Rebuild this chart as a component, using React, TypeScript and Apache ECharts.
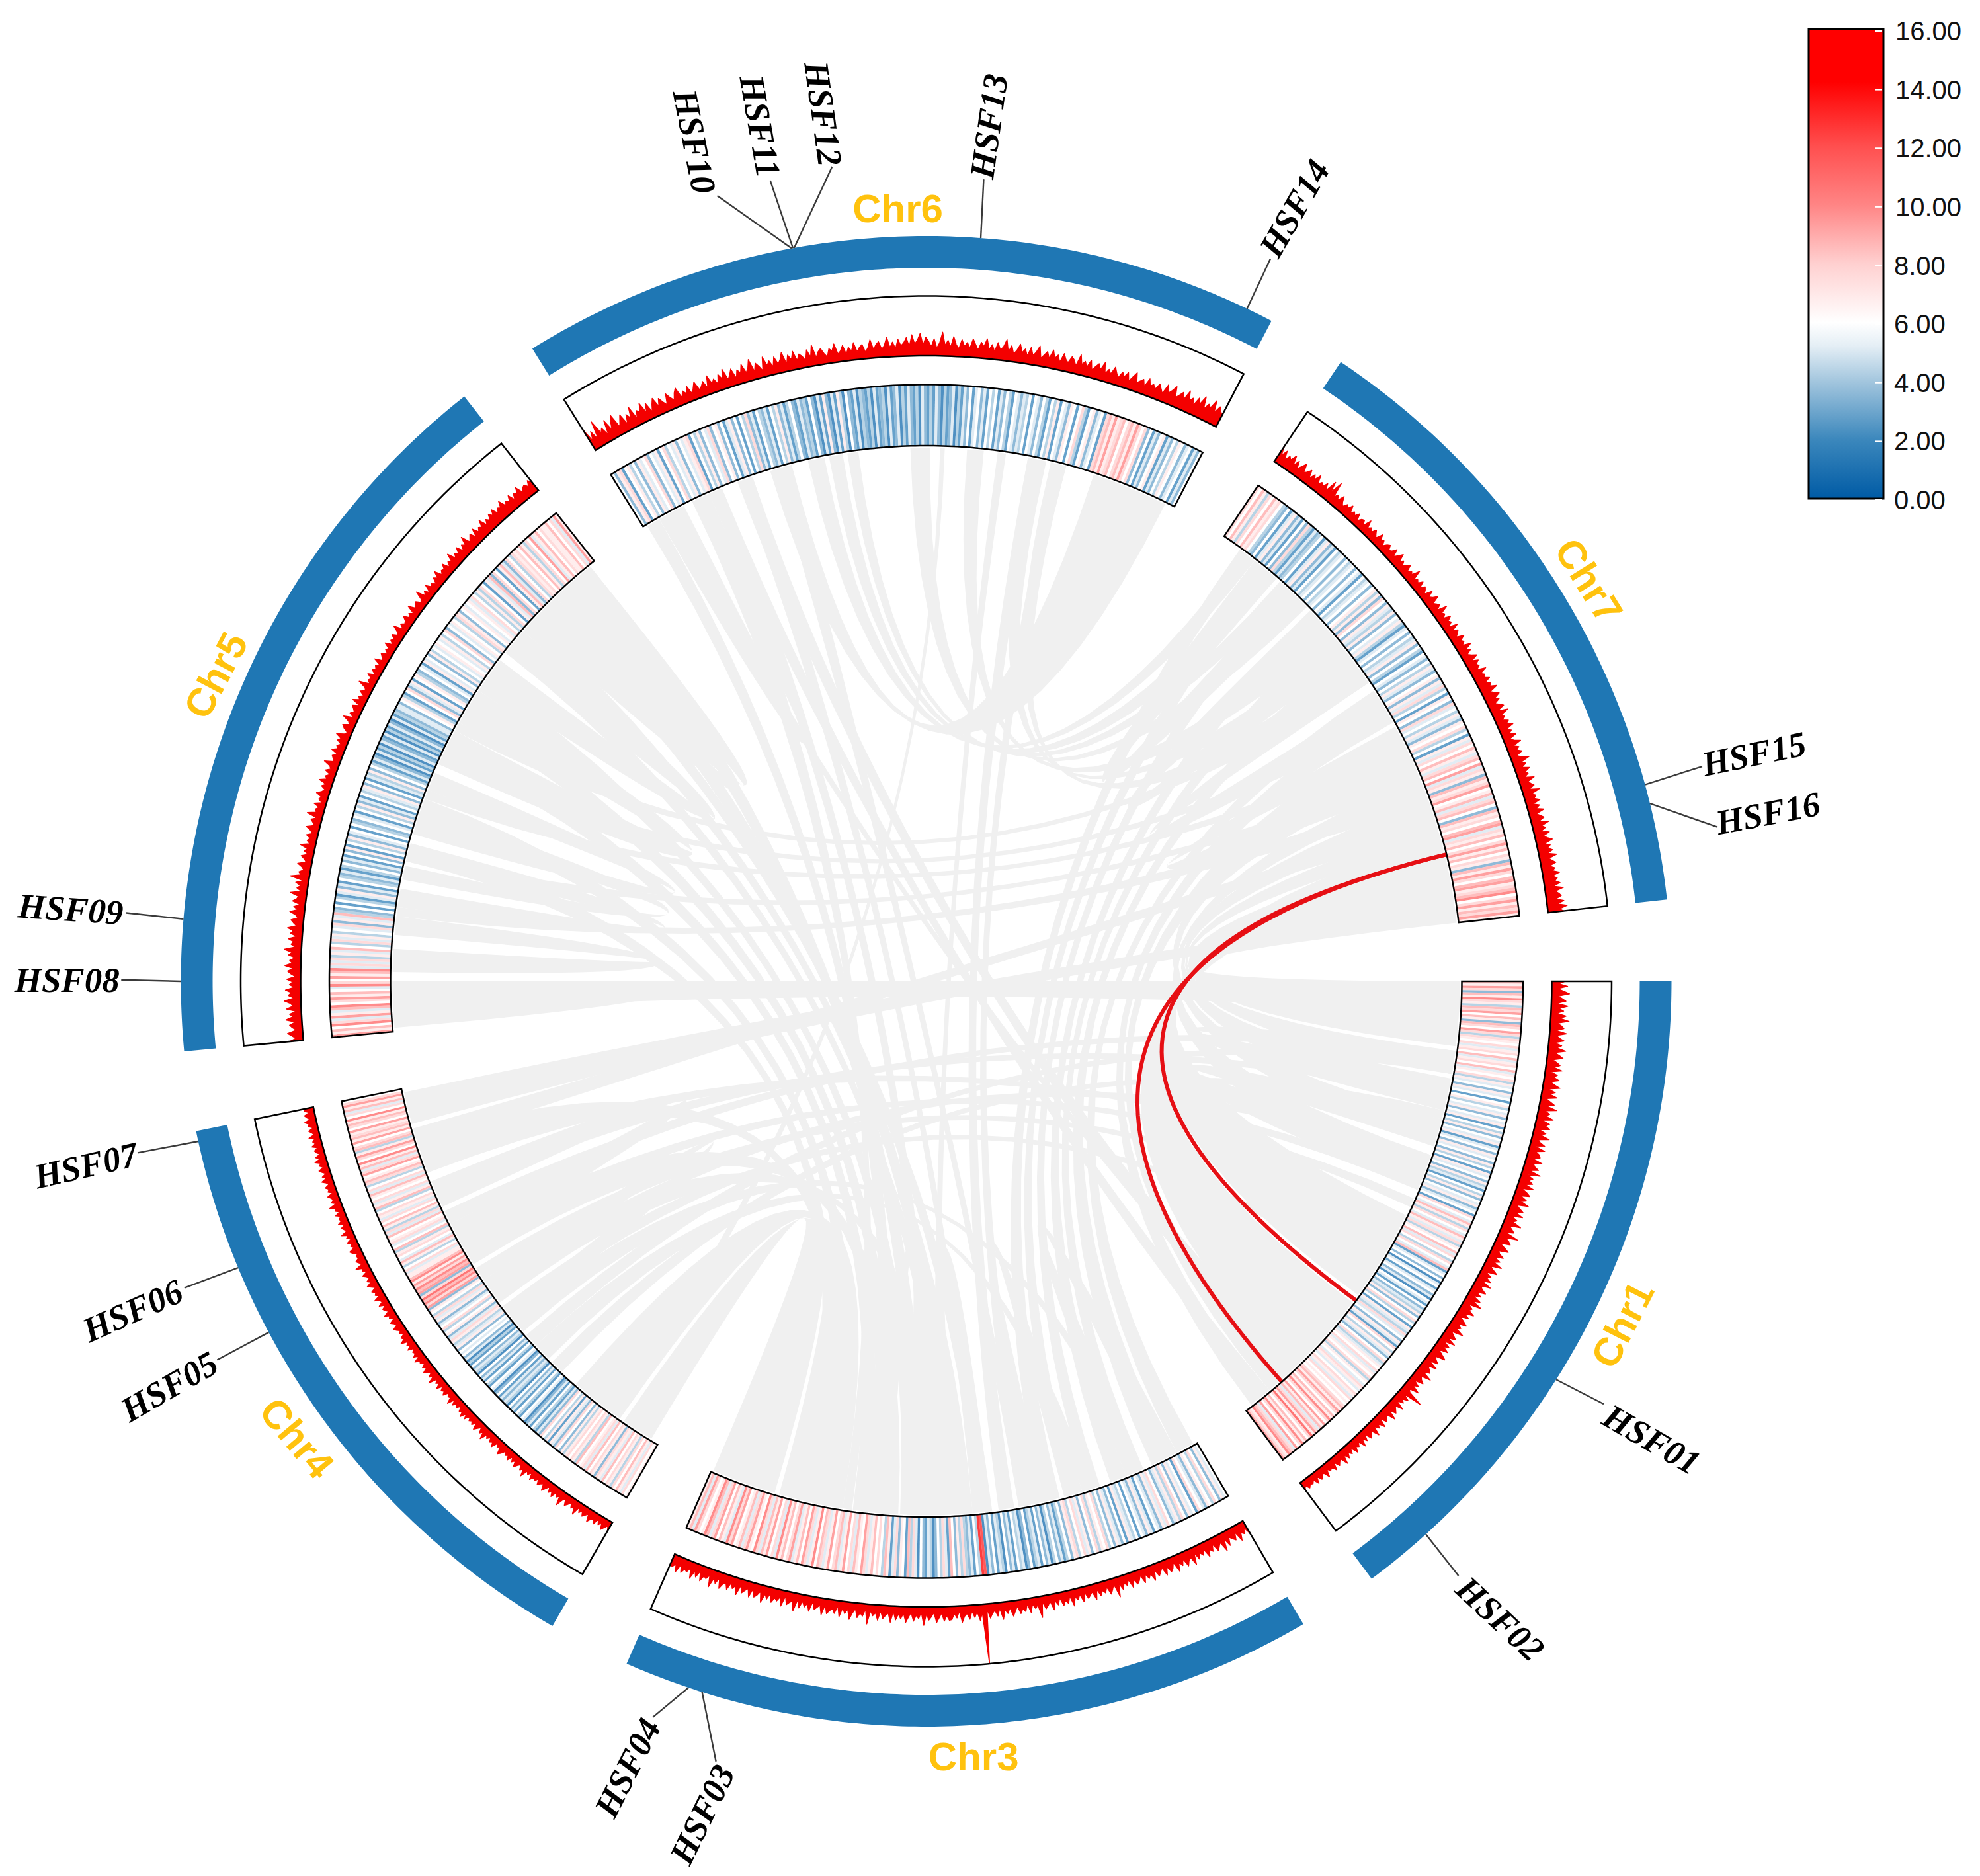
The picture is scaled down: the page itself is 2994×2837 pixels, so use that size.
import React, { useEffect, useRef } from "react";
import * as echarts from "echarts";

const chromosomes = ["Chr1", "Chr3", "Chr4", "Chr5", "Chr6", "Chr7"];
const chrStart = [0, 59.6, 120.1, 174.6, 238.1, 303.8];
const chrEnd = [53.3, 113.7, 168.4, 231.7, 297.6, 353.7];

const heat1 = [9,7,10,8,3,9,7,11,8,7,4,9,8,10,6,9,7,3,9,8,6,10,8,4,8,7,6,8,5,7,8,6,9,5,7,8,6,9,5,7,6,8,4,7,5,6,3,7,5,6,2,6,7,4,6,5,7,3,6,5,7,2,6,4,7,3,6,5,7,2,5,6,3,7,5,6,3,7,4,6,2,7,5,6,3,7,4,5,2,6,4,7,3,6,5,7,3,5,6,2,8,6,5,9,7,4,8,6,5,9,7,5,8,4,7,6,9,5,8,6,4,8,6,5,9,2,5,6,3,6,1,5,6,2,5,6,3,5,1,6,5,2,6,3,5,4,7,3,6,8,4,6,2,7,5,4,8,5,6,3,7,5,2,8,6,4,7,5,3,6,8,4,5,7,6,8,5,7,6,8,4,7,6,5,8,7,5,6,8,7,5,8,6,7,6,8,9,7,10,8,6,9,7,11,8,6,10,7,9,5,8,10,7,12,8,6,9,7,11,8,6,10,5,8,9,11,7,8,10];
const heat3 = [6,5,7,3,6,8,4,6,7,3,5,6,8,2,6,5,7,3,6,8,4,7,5,3,6,8,5,7,3,5,6,2,5,7,3,5,6,2,6,4,5,7,2,6,3,5,7,3,6,4,8,6,7,4,8,6,3,7,5,8,6,4,8,7,3,6,4,2,5,3,6,4,1,5,3,6,2,5,4,2,6,3,1,5,4,6,2,5,3,6,1,4,5,2,6,3,5,1,13,14,4,6,2,5,3,4,8,4,7,3,6,9,2,5,8,4,6,3,1,4,5,2,3,6,1,5,8,4,9,2,6,7,3,8,5,2,7,9,4,6,8,6,9,7,5,8,10,6,7,9,5,8,6,10,7,5,9,8,6,10,7,5,8,9,6,11,7,5,8,10,6,9,7,5,10,8,6,9,7,11,5,8,6,10,7,9,5,8,11,6,7,10,8,5,9,7,6,10,8,11,5,7,9,6,10,8,5,9,11,7,6,8,10,5,9,7];
const heat4 = [7,6,8,5,7,9,6,8,4,7,8,6,9,5,7,8,3,7,8,6,9,5,8,7,6,9,4,7,8,6,8,7,4,7,3,6,8,3,5,7,2,7,4,6,8,3,5,2,4,6,2,5,3,1,5,6,2,4,6,2,5,3,6,1,4,5,3,5,2,6,3,1,5,6,2,4,6,2,5,3,6,1,4,5,3,6,2,4,1,5,3,6,5,6,3,7,5,4,7,8,5,3,7,6,4,8,6,5,3,7,5,8,4,6,7,3,10,8,11,9,12,8,3,10,9,11,8,10,7,11,9,7,7,5,8,6,4,7,9,5,6,8,7,4,9,6,5,8,7,6,9,5,8,4,7,9,6,8,5,7,8,6,4,9,7,5,8,6,7,9,5,8,6,4,8,9,7,6,10,8,5,9,7,11,6,8,10,7,4,9,8,6,10,7,9,8,7,10,6,8,9,7,11,6,8,5,9,7,10,8,6];
const heat5 = [10,7,9,6,11,8,5,10,7,5,9,11,6,8,10,7,9,6,5,11,8,6,10,7,9,11,5,8,5,8,4,7,5,9,6,4,8,5,7,4,6,5,8,3,7,5,9,4,3,6,2,6,4,2,5,7,3,5,2,6,4,3,5,2,4,6,3,5,2,6,3,7,2,6,4,7,3,5,6,2,6,4,3,6,5,2,6,4,7,3,5,2,6,4,5,7,3,6,2,5,4,7,3,6,4,2,5,3,1,5,2,4,1,5,3,2,5,1,4,2,5,3,1,5,2,4,3,5,5,3,6,7,4,2,6,8,3,5,7,2,6,7,4,3,6,5,2,7,5,6,3,7,4,6,5,7,6,5,7,4,6,8,3,6,5,7,6,4,8,7,3,6,7,5,6,7,5,8,6,4,7,4,8,6,2,7,5,9,3,8,6,2,7,9,5,3,8,6,4,8,7,8,6,9,7,4,8,6,10,5,7,9,6,8,7,7,9,6,8,5,10,7];
const heat6 = [6,3,7,8,2,6,7,4,6,3,7,5,6,8,3,6,5,7,2,6,8,4,6,5,7,3,6,5,7,8,2,6,4,7,3,6,5,8,3,6,7,3,6,2,5,7,3,6,2,6,4,8,3,5,2,6,4,3,5,2,6,4,7,3,5,2,4,6,3,2,5,3,4,2,6,3,1,5,2,7,3,1,5,2,7,4,1,6,3,2,5,1,4,3,2,4,1,5,2,3,4,1,5,2,3,5,1,4,2,5,3,2,4,1,5,3,2,4,2,5,3,1,4,2,3,5,1,4,2,5,3,6,2,5,6,3,5,2,6,4,6,2,5,3,6,4,2,6,5,3,5,4,6,2,6,5,3,6,4,2,6,4,7,2,6,5,3,7,6,2,6,8,4,2,6,7,3,5,6,2,8,9,7,10,7,8,9,6,8,9,7,10,8,6,8,3,6,2,5,3,6,7,2,5,3,6,4,7,6,3,5,6,2,5,3,6];
const heat7 = [8,6,9,7,4,8,6,9,7,8,6,4,3,6,2,5,7,3,5,2,6,3,8,4,2,5,3,4,6,2,5,7,3,5,2,6,4,5,6,3,6,4,5,6,3,6,5,2,6,4,5,6,3,6,7,4,7,3,8,6,3,7,5,4,7,3,6,5,7,4,2,5,6,3,6,4,5,7,3,6,4,2,6,5,3,6,4,7,5,3,6,7,3,7,5,8,4,6,2,7,6,3,8,5,6,4,7,5,3,7,6,8,4,6,2,7,5,8,6,9,7,5,8,9,6,10,5,8,7,3,9,7,8,10,6,7,9,5,8,9,6,3,9,7,8,6,9,10,5,8,7,9,6,8,10,7,9,6,8,7,3,9,7,10,8,6,9,10,7,8,9,11,6,8,10,7,9,8,10,7];
const heatValues = [heat1, heat3, heat4, heat5, heat6, heat7];

const dens1 = [20,11,24,9,18,27,10,16,22,8,25,12,19,9,23,14,28,10,17,21,9,26,11,15,23,8,20,13,27,10,18,24,9,16,21,12,25,8,19,14,23,10,17,26,9,20,12,24,8,15,22,11,27,10,18,13,25,9,21,16,23,8,19,12,26,10,14,22,9,24,11,18,20,8,25,13,16,23,10,28,9,19,14,21,11,25,8,17,23,10,20,12,26,9,15,22,11,24,8,18,13,27,10,16,21,9,30,12,19,23,8,17,25,11,14,22,9,20,12,26,10,16,24,8,18,13,21,9,25,11,15,23,10,19,8,22,12,28,9,17,14,24,10,20,8,16,23,11,18,13,26,9,15,21,10,24,8,19,12,22,9,17,25,11,14,20,8,23,10,16,19,9,26,12,15,21,8,18,11,24,10,14,38,9,20,12,17,8,22,11,15,19,9,24,10,13,18,8,21,11,16,9,23,12,14,19,8,17,10,21,9,15,12,20,8,16,11,18,9,22,10,13,17,8,19,11,14,9,20,10,12,16,8,18,9,13,11,15,8,14];
const dens3 = [22,10,18,14,25,9,20,16,11,23,10,28,12,17,22,9,19,14,24,10,18,12,21,9,26,13,16,23,10,19,12,25,9,17,21,11,23,10,15,20,9,24,12,18,10,22,9,16,20,11,23,9,17,12,21,10,30,9,16,22,10,18,13,20,9,24,11,15,19,8,22,10,17,12,25,9,19,14,21,8,18,11,24,10,16,20,9,32,12,17,10,22,8,19,14,21,9,16,23,10,18,12,26,9,20,11,15,22,8,90,13,24,10,19,9,21,12,16,25,8,18,11,20,21,14,22,10,17,24,9,15,20,11,28,8,18,13,22,9,16,24,10,19,12,21,8,25,11,15,20,9,23,12,17,10,30,8,19,14,22,9,16,26,11,18,10,24,8,20,13,17,22,9,25,11,15,19,8,23,12,18,10,21,9,27,13,16,20,8,24,11,18,14,22,9,19,12,26,10,17,21,8,23,11,15,20,9,25,12,18,10,22,13,16,24,9,19,11,27,10,17,14,23,9,20,12,25,10,18,15,22,11,24,13,19,16];
const dens4 = [15,8,13,18,9,14,7,17,10,13,19,8,12,16,9,14,7,21,11,15,8,13,17,9,12,23,10,14,8,18,11,15,7,13,19,9,12,16,8,14,10,17,7,13,9,21,11,15,8,12,18,9,14,7,16,10,13,8,15,19,9,12,7,17,11,14,8,13,9,20,10,15,7,12,17,8,14,10,13,7,16,9,18,11,14,7,13,9,15,8,19,10,12,7,16,11,14,8,17,9,13,7,21,10,15,8,12,17,9,14,7,13,11,18,8,15,10,12,7,16,9,13,8,19,11,14,7,12,9,13,16,8,11,15,7,13,10,17,8,12,14,7,16,9,11,18,8,13,10,15,7,12,17,9,14,8,11,16,7,13,10,20,8,12,15,9,11,7,14,17,8,12,10,15,7,13,9,18,8,11,14,7,16,10,12,8,15,7,13,11,19,8,14,9,12,16,7,13,10,15,8,11,17,9,14,7,12,16,8,13,10,18,9,15,7,12,14,8,16,10,13,9,17,8,11,15,7,14,12,18,9,13,16,8,15,11];
const dens5 = [21,11,17,23,9,15,19,10,24,13,18,8,22,12,16,25,10,19,14,23,9,17,12,21,8,15,20,11,24,13,17,9,19,14,26,10,16,12,21,8,18,14,23,10,15,19,9,13,22,11,17,8,20,14,12,25,9,16,11,19,8,29,13,17,10,14,21,9,12,18,8,15,11,23,9,14,10,17,8,13,20,9,12,16,8,24,11,14,9,18,7,13,10,19,12,8,15,9,21,11,14,8,17,10,13,23,9,12,15,8,19,11,14,9,16,12,21,10,7,14,18,9,12,22,8,15,10,13,17,7,20,11,14,8,16,9,12,24,8,13,10,18,7,15,11,14,9,20,8,12,16,7,13,10,19,8,14,11,17,9,13,22,8,15,10,12,18,9,14,8,21,11,13,16,9,12,24,10,15,8,19,11,14,9,17,12,22,10,15,13,20,9,16,12,24,11,17,13,21,10,18,14,26,12,16,20,11,23,13,18,15,25,12,19,14,22,16,24,13,20,17,26,14,19,15,23,12,21,16,25,13,18,20,14,22,16];
const dens6 = [36,14,28,12,40,18,24,10,32,14,26,34,12,20,28,10,24,16,32,11,22,18,30,12,26,10,20,28,13,24,16,10,26,18,12,22,28,11,20,14,24,10,18,26,12,16,22,10,28,14,20,11,24,16,30,12,18,26,10,22,16,28,14,20,32,12,24,18,10,30,16,22,12,26,14,20,30,11,24,16,28,13,22,18,10,26,14,32,12,20,24,16,10,22,18,28,12,16,24,10,20,14,26,12,18,22,10,16,28,13,20,24,12,18,30,14,22,12,26,16,20,28,14,32,18,24,34,16,28,22,14,26,12,20,36,16,24,14,30,18,12,26,16,22,14,28,20,12,24,18,30,14,22,12,26,16,20,32,14,24,12,18,28,16,22,12,26,14,20,30,12,18,24,14,28,16,22,12,26,18,14,24,20,12,30,16,22,14,26,12,18,24,16,28,12,20,14,26,18,12,22,16,24,12,20,28,14,18,22,12,26,16,20,14,24,18,12,28,16,22,30,14,20,26,16,32,18,24,14,28,20,34,16,26,22,36,18,30,24,20];
const dens7 = [28,14,24,11,20,16,26,12,22,11,18,25,12,16,22,10,20,14,24,11,17,13,21,10,30,14,34,12,18,11,22,14,9,16,12,20,10,15,11,18,8,14,16,9,22,11,15,10,18,13,9,20,11,15,8,14,17,10,13,20,9,15,22,11,16,10,14,19,9,15,12,24,10,14,11,18,9,16,13,8,20,11,15,22,10,14,17,9,24,12,15,10,20,13,16,9,22,11,18,14,10,21,13,16,11,23,12,18,10,15,22,11,20,14,17,11,24,13,18,15,22,12,20,16,26,13,18,24,15,20,11,17,22,10,25,13,16,11,19,14,23,10,17,12,21,9,15,24,11,18,13,20,10,16,27,12,19,11,22,14,17,10,24,13,16,20,11,26,12,18,14,22,10,19,13,24,11,16,21,12,26,14,19,11,23,13,18,25,12,20,15,22,13,27,14,18,23,12,20,16,26,14,21,17,24,13,28,15,20,23,14,26,16,30,18,24];
const densityValues = [dens1, dens3, dens4, dens5, dens6, dens7];

const geneNames = ["HSF01","HSF02","HSF03","HSF04","HSF05","HSF06","HSF07","HSF08","HSF09","HSF10","HSF11","HSF12","HSF13","HSF14","HSF15","HSF16"];
const geneAngles = [32.3,47.9,107.5,108.6,151.9,157.4,167.6,180,184.8,259.6,259.7,259.8,274.2,295.5,344.7,346.2];

const ribbons = [
  [0,7,346,353.7],[7.5,10,343,345],[10.5,14,340,342.5],[26,36,344.5,346.5],[37,47,347,348.5],
  [15,18,334,337],[19,23,337.5,339.5],[48,50,332,334.5],[50.5,52.5,329,331],[0,3.3,176.7,180],
  [7.5,10,11,14],[15,18,19,23],[308,311,312.5,315],[316,318.5,320,322.5],[324,326,327.5,330],[331.5,333.5,335,338],
  [62,64,66,68],[73,75,77,79],[83,85,87,89],[90,92,94,97],[140,142,144,146],[150,153,155,158],
  [60,62,327,328.5],[62.5,65,322,323.5],[66,67.5,319,320.5],[68,69.8,316,317.5],[71,72.5,312,313.5],
  [73.5,75,309,310.5],[75.5,77.5,306,307.5],[78.6,80,284,285.2],[80.5,82.2,281,282.5],
  [82.9,84.5,224,225.5],[85,86.5,221,222.5],[87,88.4,218,219.5],[88.9,90.5,246,247.5],[91,92.8,213,214.5],
  [93.6,95.5,209,211],[96,97.9,205,207],[99,106,125,131],[106.5,113.5,121,124.5],[99,101,198,200],[102,104,193,195],
  [133,134.5,14,15],[137,138.5,9,10],[141,142.5,33,34],[144,145.5,19,20],[146,147.5,28,29],[150,151.5,24,25],
  [153,154.5,7.5,8.5],[156,157.5,12,13],[159,160.5,22,23],[162,164,342,343.5],[164.5,168,352,353.5],[160,163,100,103],
  [148,152,93,96],[143,146,88,90],[135,137,72,73],[139,141,66,67],
  [175,177,178,180],[181,183.5,185,187],[188,190,193,195],[191,192.5,197,199],[196,198,201,203],[204,208,210,213],
  [214,217,218,221],[222,225,226,229],[187,188,339,340.5],[193,194,336,337],[200,201,333,334],[204,205,330,331],[208,209,325,326],
  [240,243,244,246],[224,226,228,231],[249.3,251,46,48],[253,255.4,288.3,296.6],[257.2,259,306.5,308],[259.5,261,309,311],
  [261.5,262.7,311.5,313],[268.3,270.4,314,315.5],[271.5,272,125.5,126.5],[274.4,276.2,318,320],[277.7,278.6,88,89],
  [281,283,320.5,322],[283.5,285.2,323,325],[241,242,46.5,47.5],[246,247.5,50,51.5],
  [226,228,86,88],[229,231,90,92],[238.5,240,94,96],[244,246,98,99],[249.5,251,84,85],[253.5,255,79,80],
];
const redLinks = [[346.3, 36.6], [346.3, 48.4]];

const legendTicks = [16, 14, 12, 10, 8, 6, 4, 2, 0];
const colorStops: [number, number[]][] = [
  [0, [0, 91, 165]], [2, [59, 135, 188]], [4, [163, 198, 222]], [5.2, [228, 238, 245]],
  [6, [255, 255, 255]], [8, [255, 208, 208]], [10, [255, 133, 133]], [12, [255, 79, 79]],
  [14.2, [255, 0, 0]], [16, [255, 0, 0]],
];

// layout (pixels of the picture)
const W = 2994, H = 2837, CX = 1400.5, CY = 1484;
const K = 2994 / 1568;
const BLUE_R0 = 1079, BLUE_R1 = 1127, TRACK_R0 = 946, TRACK_R1 = 1036.5, HEAT_R0 = 810, HEAT_R1 = 902.5, LINK_R = 807;
const geneLayout: number[][] = [
  [1308,1140,30,1270,1112],[1188,1282,43,1155,1248],[556,1437,-64,567,1395],[497,1400,-63,517,1360],
  [134,1098,-30,172,1077],[105,1038,-24,146,1020],[68,923,-13,109,913],[53,776,0,96,776],
  [56,720,4,100,723],[550,112,79,568,155],[602,100,80,610,143],[652,90,82,659,132],
  [783,100,-82,779,142],[1025,165,-60,1006,205],[1389,597,-12,1348,607],[1400,644,-11,1360,655],
];
const chrLayout: number[][] = [[1285,1049,-63],[771,1391,0],[235,1139,50],[171,535,-62],[711,165,0],[1258,460,58]];

function heatColor(v: number) {
  for (let i = 1; i < colorStops.length; i++) {
    if (v <= colorStops[i][0]) {
      const [a, ca] = colorStops[i - 1];
      const [b, cb] = colorStops[i];
      const t = (v - a) / (b - a);
      return `rgb(${ca.map((c, j) => Math.round(c + (cb[j] - c) * t)).join(",")})`;
    }
  }
  return "rgb(255,0,0)";
}

function layer(name: string, count: number, draw: (i: number, api: any) => any) {
  return {
    type: "custom", name, coordinateSystem: "polar", silent: true, animation: false,
    data: Array.from({ length: count }, () => [1, 1]),
    renderItem: (params: any, api: any) => draw(params.dataIndex, api),
  };
}

function arc(api: any, r: number, a0: number, a1: number, step = 0.5) {
  const n = Math.max(1, Math.ceil(Math.abs(a1 - a0) / step));
  const pts = [];
  for (let i = 0; i <= n; i++) pts.push(api.coord([r, a0 + ((a1 - a0) * i) / n]));
  return pts;
}
function band(api: any, r0: number, r1: number, a0: number, a1: number) {
  return [...arc(api, r1, a0, a1), ...arc(api, r0, a1, a0)];
}
function quad(p: number[], c: number[], q: number[], n = 22) {
  const out = [];
  for (let i = 0; i <= n; i++) {
    const t = i / n, u = 1 - t;
    out.push([u * u * p[0] + 2 * u * t * c[0] + t * t * q[0], u * u * p[1] + 2 * u * t * c[1] + t * t * q[1]]);
  }
  return out;
}

function buildOption() {
  const heatCells: number[][] = [];
  heatValues.forEach((vals, c) => {
    const w = (chrEnd[c] - chrStart[c]) / vals.length;
    vals.forEach((v, i) => heatCells.push([chrStart[c] + i * w, chrStart[c] + (i + 1) * w, v]));
  });
  const leg = (v: number) => 47 + ((16 - v) * (756 - 47)) / 16;
  const gradStops = colorStops.map(([v]) => ({ offset: (16 - v) / 16, color: heatColor(v) })).reverse();
  return {
    animation: false,
    backgroundColor: "#ffffff",
    polar: { center: [CX, CY], radius: 1400 },
    angleAxis: { type: "value", min: 0, max: 360, startAngle: 0, clockwise: true, show: false },
    radiusAxis: { type: "value", min: 0, max: 1400, show: false },
    graphic: [
      { type: "rect", shape: { x: 2735, y: 44, width: 113, height: 710 },
        style: { stroke: "#000", lineWidth: 3,
          fill: new echarts.graphic.LinearGradient(0, 0, 0, 1, gradStops) } },
      ...legendTicks.map((v) => ({ type: "line", shape: { x1: 2835, y1: leg(v), x2: 2846, y2: leg(v) }, style: { stroke: "#fff", lineWidth: 2 } })),
      ...legendTicks.map((v) => ({ type: "text", x: v >= 10 ? 2866 : 2864, y: leg(v),
        style: { text: v.toFixed(2), fill: "#111", font: "40px 'Liberation Sans'", verticalAlign: "middle", align: "left" } })),
    ],
    series: [
      layer("ribbons", ribbons.length, (i, api) => {
        const [a1, a2, b1, b2] = ribbons[i];
        const c = api.coord([0, 0]);
        const A = arc(api, LINK_R, a1, a2, 1);
        const B = arc(api, LINK_R, b1, b2, 1);
        return { type: "polygon", shape: { points: [...A, ...quad(A[A.length - 1], c, B[0]), ...B, ...quad(B[B.length - 1], c, A[0])] },
          style: { fill: "#f0f0f0", stroke: null } };
      }),
      layer("links", redLinks.length, (i, api) => {
        const c = api.coord([0, 0]);
        return { type: "polyline", shape: { points: quad(api.coord([HEAT_R0, redLinks[i][0]]), c, api.coord([HEAT_R0, redLinks[i][1]]), 60) },
          style: { fill: "none", stroke: "#e60f14", lineWidth: 6 } };
      }),
      layer("chromosomes", chromosomes.length, (i, api) => ({
        type: "polygon", shape: { points: band(api, BLUE_R0, BLUE_R1, chrStart[i], chrEnd[i]) }, style: { fill: "#1f77b4", stroke: null },
      })),
      layer("heat", heatCells.length, (i, api) => {
        const [a0, a1, v] = heatCells[i];
        const col = heatColor(v);
        return { type: "polygon", shape: { points: [api.coord([HEAT_R1, a0]), api.coord([HEAT_R1, a1]), api.coord([HEAT_R0, a1]), api.coord([HEAT_R0, a0])] },
          style: { fill: col, opacity: 0.78 } };
      }),
      layer("density", densityValues.length, (i, api) => {
        const vals = densityValues[i];
        const top = vals.map((v, k) => api.coord([TRACK_R0 + v, chrStart[i] + ((chrEnd[i] - chrStart[i]) * k) / (vals.length - 1)]));
        return { type: "polygon", shape: { points: [...top, ...arc(api, TRACK_R0, chrEnd[i], chrStart[i])] },
          style: { fill: "#f40000", stroke: "#f40000", lineWidth: 1.4, lineJoin: "round" } };
      }),
      layer("frames", chromosomes.length * 2, (k, api) => {
        const i = k % chromosomes.length;
        const heat = k < chromosomes.length;
        return { type: "polygon", shape: { points: band(api, heat ? HEAT_R0 : TRACK_R0, heat ? HEAT_R1 : TRACK_R1, chrStart[i], chrEnd[i]) },
          style: { fill: "none", stroke: "#000", lineWidth: 2.5 } };
      }),
      layer("geneLines", geneNames.length, (i, api) => {
        const p = api.coord([BLUE_R1, geneAngles[i]]);
        const l = geneLayout[i];
        return { type: "line", shape: { x1: p[0], y1: p[1], x2: l[3] * K, y2: l[4] * K }, style: { stroke: "#3a3a3a", lineWidth: 2.4 } };
      }),
      layer("geneLabels", geneNames.length, (i) => {
        const l = geneLayout[i];
        return { type: "text", x: l[0] * K, y: l[1] * K, rotation: (-l[2] * Math.PI) / 180,
          style: { text: geneNames[i], fill: "#000", font: "italic bold 53px 'Liberation Serif'", align: "center", verticalAlign: "middle" } };
      }),
      layer("chrLabels", chromosomes.length, (i) => {
        const l = chrLayout[i];
        return { type: "text", x: l[0] * K, y: l[1] * K, rotation: (-l[2] * Math.PI) / 180,
          style: { text: chromosomes[i], fill: "#ffc20e", font: "bold 60px 'Liberation Sans'", align: "center", verticalAlign: "middle" } };
      }),
    ],
  };
}

export default function App() {
  const ref = useRef<HTMLDivElement>(null);
  useEffect(() => {
    document.body.style.margin = "0";
    const chart = echarts.init(ref.current!, null, { renderer: "svg" });
    chart.setOption(buildOption() as any);
    return () => chart.dispose();
  }, []);
  return <div ref={ref} style={{ width: W, height: H }} />;
}
